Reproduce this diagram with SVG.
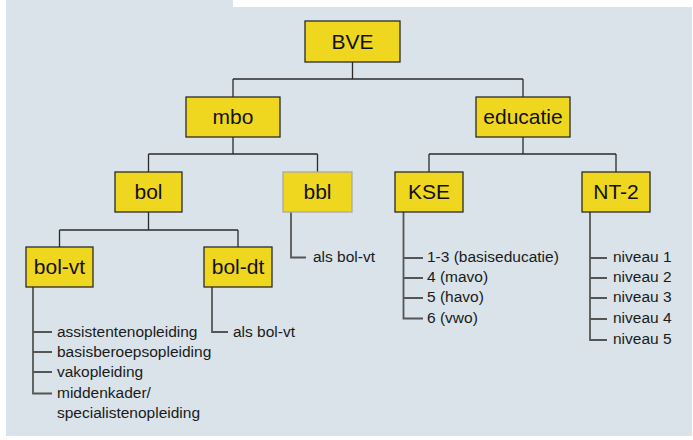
<svg xmlns="http://www.w3.org/2000/svg" width="693" height="440" viewBox="0 0 693 440">
<style>
.bg{fill:#d9e3e9}
.box{fill:#efd61f;stroke:#2b2b2b;stroke-width:1.3}
.box2{fill:#efd61f;stroke:#a9a9a9;stroke-width:1.3}
.lbl{font-family:"Liberation Sans",Arial,sans-serif;font-size:21px;fill:#111;text-anchor:middle}
.item{font-family:"Liberation Sans",Arial,sans-serif;font-size:15.5px;fill:#1a1a1a}
.c{fill:none;stroke:#2b2b2b;stroke-width:1.3}
.c2{fill:none;stroke:#555;stroke-width:1.8}
</style>
<rect width="693" height="440" fill="#ffffff"/>
<polygon class="bg" points="6,0 233,0 233,7 692,7 692,436 6,436"/>
<g id="connectors">
<path class="c" d="M352.5,62 V79 M233,79 H523 M233,79 V97 M523,79 V97"/>
<path class="c" d="M233,137 V154 M148.5,154 H317.5 M148.5,154 V172 M317.5,154 V172"/>
<path class="c" d="M523,137 V154 M429,154 H616 M429,154 V172 M616,154 V172"/>
<path class="c" d="M148.5,212 V230 M59.5,230 H238 M59.5,230 V247 M238,230 V247"/>
<path class="c2" d="M291,212 V257.5 H306"/>
<path class="c2" d="M212,287 V332 H228"/>
<path class="c2" d="M33,287 V393.5 H52 M33,332 H52 M33,352 H52 M33,372 H52"/>
<path class="c2" d="M403.5,212 V318.5 H423 M403.5,258 H423 M403.5,278 H423 M403.5,298 H423"/>
<path class="c2" d="M590,212 V340 H607 M590,258 H607 M590,278 H607 M590,298 H607 M590,319 H607"/>
</g>
<g id="BVE"><rect class="box" x="305" y="21" width="95" height="41"/><text class="lbl" x="352.5" y="49">BVE</text></g>
<g id="mbo"><rect class="box" x="186" y="97" width="94" height="40"/><text class="lbl" x="233" y="124">mbo</text></g>
<g id="educatie"><rect class="box" x="476" y="97" width="94" height="40"/><text class="lbl" x="523" y="124">educatie</text></g>
<g id="bol"><rect class="box" x="115" y="172" width="67" height="40"/><text class="lbl" x="148.5" y="199">bol</text></g>
<g id="bbl"><rect class="box2" x="283" y="172" width="69" height="40"/><text class="lbl" x="317.5" y="199">bbl</text>
<text class="item" x="313" y="262">als bol-vt</text></g>
<g id="KSE"><rect class="box" x="395" y="172" width="68" height="40"/><text class="lbl" x="429" y="199">KSE</text>
<text class="item" x="427" y="262">1-3 (basiseducatie)</text>
<text class="item" x="427" y="282">4 (mavo)</text>
<text class="item" x="427" y="302">5 (havo)</text>
<text class="item" x="427" y="322.5">6 (vwo)</text></g>
<g id="NT-2"><rect class="box" x="582" y="172" width="68" height="40"/><text class="lbl" x="616" y="199">NT-2</text>
<text class="item" x="613" y="262">niveau 1</text>
<text class="item" x="613" y="282">niveau 2</text>
<text class="item" x="613" y="302">niveau 3</text>
<text class="item" x="613" y="323">niveau 4</text>
<text class="item" x="613" y="344">niveau 5</text></g>
<g id="bol-vt"><rect class="box" x="26" y="247" width="67" height="40"/><text class="lbl" x="59.5" y="274">bol-vt</text>
<text class="item" x="57" y="337">assistentenopleiding</text>
<text class="item" x="57" y="357">basisberoepsopleiding</text>
<text class="item" x="57" y="377">vakopleiding</text>
<text class="item" x="57" y="397.5">middenkader/</text>
<text class="item" x="57" y="417.5">specialistenopleiding</text></g>
<g id="bol-dt"><rect class="box" x="204" y="247" width="68" height="40"/><text class="lbl" x="238" y="274">bol-dt</text>
<text class="item" x="233" y="337">als bol-vt</text></g>
</svg>
